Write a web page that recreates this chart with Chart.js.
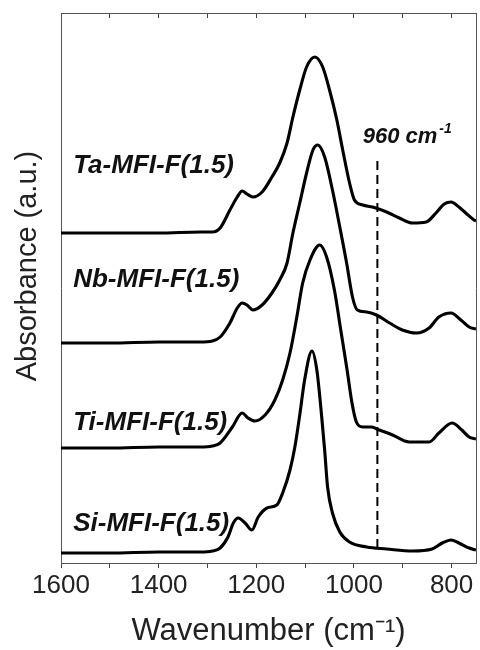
<!DOCTYPE html>
<html>
<head>
<meta charset="utf-8">
<script src="https://cdn.jsdelivr.net/npm/chart.js@4.4.1/dist/chart.umd.min.js"></script>
<style>
  html, body { margin: 0; padding: 0; background: #ffffff; }
  #wrap { width: 480px; height: 650px; }
</style>
</head>
<body>
<div id="wrap"><canvas id="c" width="480" height="650"></canvas></div>
<script>
// ---- Data (wavenumber in cm-1, absorbance in a.u., spectra already offset) ----
const wnTa = [1600,1500,1400,1315,1290,1274,1254,1239,1229,1219,1207,1188,1168,1152,1137,1125,1111,1097,1080,1064,1050,1035,1023,1009,999,982,962,933,907,880,852,832,815,801,785,771,754,750];
const absTa = [3.30,3.30,3.30,3.31,3.31,3.35,3.53,3.66,3.72,3.69,3.66,3.71,3.86,4.00,4.20,4.46,4.73,4.96,5.06,4.96,4.73,4.43,4.13,3.80,3.63,3.58,3.56,3.51,3.45,3.40,3.41,3.50,3.59,3.61,3.56,3.50,3.43,3.42];

const wnNb = [1600,1500,1400,1315,1290,1274,1254,1239,1229,1219,1207,1188,1168,1152,1137,1125,1111,1097,1084,1074,1060,1044,1029,1015,1003,993,974,954,927,901,872,846,826,801,781,764,750];
const absNb = [2.20,2.20,2.21,2.21,2.22,2.26,2.40,2.55,2.60,2.58,2.53,2.58,2.70,2.83,3.00,3.30,3.60,3.90,4.13,4.18,4.06,3.73,3.36,3.00,2.66,2.53,2.51,2.48,2.40,2.33,2.30,2.35,2.46,2.50,2.43,2.36,2.34];

const wnTi = [1600,1500,1400,1315,1290,1274,1249,1229,1217,1203,1182,1162,1146,1131,1117,1105,1090,1070,1056,1040,1027,1014,1004,995,982,964,948,921,887,846,826,799,779,764,750];
const absTi = [1.15,1.15,1.16,1.16,1.17,1.20,1.36,1.50,1.45,1.42,1.48,1.63,1.83,2.10,2.46,2.80,3.03,3.18,3.06,2.73,2.33,1.93,1.60,1.41,1.36,1.36,1.33,1.28,1.21,1.21,1.30,1.40,1.33,1.26,1.24];

const wnSi = [1600,1500,1400,1315,1290,1274,1258,1247,1237,1223,1209,1196,1178,1158,1146,1131,1121,1111,1101,1086,1076,1066,1060,1054,1044,1029,1009,974,933,880,840,819,801,785,764,750];
const absSi = [0.10,0.10,0.11,0.11,0.12,0.15,0.26,0.40,0.45,0.40,0.33,0.46,0.55,0.58,0.70,0.93,1.16,1.48,1.83,2.12,1.93,1.46,1.13,0.76,0.50,0.31,0.21,0.16,0.14,0.12,0.14,0.20,0.23,0.20,0.15,0.13];

// marker line at the 960 cm-1 band (as drawn)
const markerWn = [952, 952];
const markerAbs = [0.15, 4.06];

// series labels and their anchor (data units)
const seriesNames = ['Ta-MFI-F(1.5)', 'Nb-MFI-F(1.5)', 'Ti-MFI-F(1.5)', 'Si-MFI-F(1.5)'];
const labelWn = 1575;
const labelAbs = [3.90, 2.76, 1.33, 0.32];
const bandLabel = { text: '960 cm', sup: '-1', wn: 982, abs: 4.20 };

const xMin = 750, xMax = 1600, yMin = 0, yMax = 5.5;
const xTickStep = 100, xLabelStep = 200;
const xTitle = 'Wavenumber (cm\u207B\u00B9)';
const yTitle = 'Absorbance (a.u.)';

// ---- Build ----
const pts = (xs, ys) => xs.map((x, i) => ({ x: x, y: ys[i] }));
const FONT = '"Liberation Sans", Arial, sans-serif';

function spectrum(label, xs, ys) {
  return {
    label: label,
    data: pts(xs, ys),
    borderColor: '#000000',
    borderWidth: 3.1,
    pointRadius: 0,
    fill: false,
    cubicInterpolationMode: 'monotone'
  };
}

const annotate = {
  id: 'annotate',
  afterLayout(chart) {
    const s = chart.scales.yt;
    if (s) { s.top -= 22; s.bottom -= 22; }
  },
  afterDatasetsDraw(chart) {
    const ctx = chart.ctx;
    const xs = chart.scales.x, ys = chart.scales.y;
    ctx.save();
    ctx.fillStyle = '#111111';
    ctx.textAlign = 'left';
    ctx.textBaseline = 'alphabetic';
    ctx.font = 'italic bold 26px ' + FONT;
    seriesNames.forEach((t, i) => {
      ctx.fillText(t, xs.getPixelForValue(labelWn), ys.getPixelForValue(labelAbs[i]));
    });
    const bx = xs.getPixelForValue(bandLabel.wn), by = ys.getPixelForValue(bandLabel.abs);
    ctx.font = 'italic bold 22px ' + FONT;
    ctx.fillText(bandLabel.text, bx, by);
    const w = ctx.measureText(bandLabel.text).width;
    ctx.font = 'italic bold 14px ' + FONT;
    ctx.fillText(bandLabel.sup, bx + w + 2, by - 10);
    ctx.restore();
  }
};

new Chart(document.getElementById('c'), {
  type: 'line',
  data: {
    datasets: [
      spectrum(seriesNames[0], wnTa, absTa),
      spectrum(seriesNames[1], wnNb, absNb),
      spectrum(seriesNames[2], wnTi, absTi),
      spectrum(seriesNames[3], wnSi, absSi),
      {
        label: '960 cm-1',
        data: pts(markerWn, markerAbs),
        borderColor: '#000000',
        borderWidth: 2,
        borderDash: [9, 5],
        pointRadius: 0,
        fill: false
      }
    ]
  },
  options: {
    responsive: false,
    devicePixelRatio: 1,
    animation: false,
    layout: { padding: 0 },
    plugins: { legend: { display: false }, tooltip: { enabled: false } },
    scales: {
      x: {
        type: 'linear', position: 'bottom', reverse: true, min: xMin, max: xMax,
        ticks: {
          stepSize: xTickStep, includeBounds: false, padding: 2,
          font: { family: FONT, size: 26 }, color: '#222222', maxRotation: 0, autoSkip: false,
          callback: v => (v % xLabelStep === 0 ? String(v) : '')
        },
        grid: { drawOnChartArea: false, tickLength: 5, color: '#444444', lineWidth: 1 },
        border: { display: true, color: '#555555', width: 1 },
        title: { display: true, text: xTitle, font: { family: FONT, size: 31 }, color: '#222222', padding: { top: 0, bottom: 0 } },
        afterFit: s => { s.height = 87; }
      },
      xTop: {
        type: 'linear', position: 'top', reverse: true, min: xMin, max: xMax,
        ticks: { display: false, stepSize: xTickStep, includeBounds: false },
        grid: { drawOnChartArea: false, tickLength: -5, color: '#444444', lineWidth: 1 },
        border: { display: true, color: '#555555', width: 1 },
        afterFit: s => { s.height = 13; }
      },
      y: {
        type: 'linear', position: 'left', min: yMin, max: yMax, weight: 0,
        ticks: { display: false },
        grid: { display: false },
        border: { display: true, color: '#555555', width: 1 },
        afterFit: s => { s.width = 21; }
      },
      yt: {
        type: 'linear', position: 'left', weight: 1, min: yMin, max: yMax,
        ticks: { display: false },
        grid: { display: false },
        border: { display: false },
        title: { display: true, text: yTitle, font: { family: FONT, size: 29 }, color: '#222222', padding: { top: 11, bottom: 0 } },
        afterFit: s => { s.width = 40; }
      },
      yR: {
        type: 'linear', position: 'right', min: yMin, max: yMax,
        ticks: { display: false },
        grid: { display: false },
        border: { display: true, color: '#555555', width: 1 },
        afterFit: s => { s.width = 4; }
      }
    }
  },
  plugins: [annotate]
});
</script>
</body>
</html>
